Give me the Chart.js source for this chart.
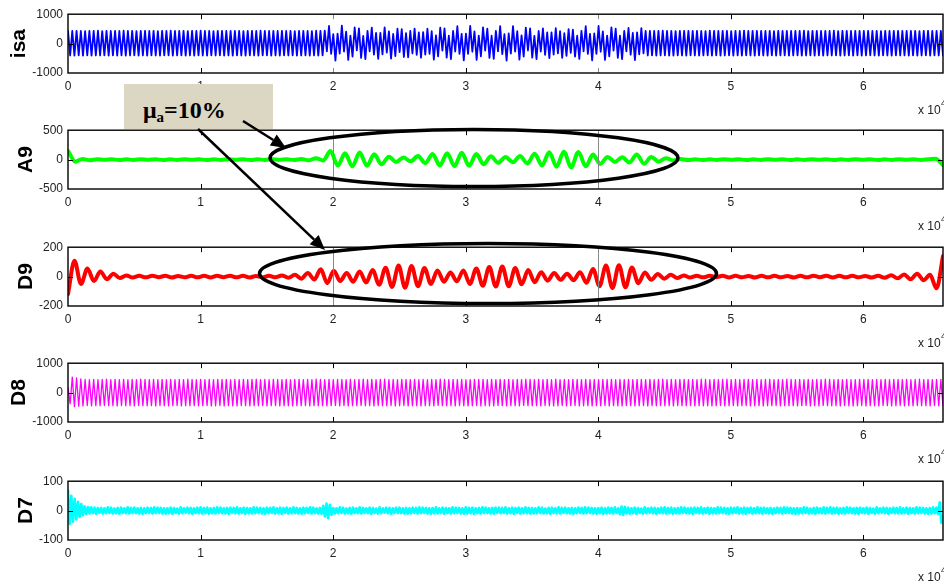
<!DOCTYPE html>
<html>
<head>
<meta charset="utf-8">
<script src="https://cdn.jsdelivr.net/npm/chart.js@4.4.0/dist/chart.umd.min.js"></script>
<style>
html, body { margin: 0; padding: 0; background: #fff; }
#page { position: relative; width: 944px; height: 588px; overflow: hidden; }
.panel { position: absolute; left: 0; width: 944px; height: 118px; z-index: 1; }
#note { position: absolute; left: 124px; top: 84px; width: 149px; height: 45px; background: #dbd7c3; z-index: 2;
        font: bold 24px "Liberation Serif", "Times New Roman", serif; color: #000; }
#note .t { position: absolute; left: 19px; top: 14px; line-height: 24px; white-space: nowrap; }
#note sub { font-size: 15px; vertical-align: -4px; line-height: 0; }
#marks { position: absolute; left: 0; top: 0; z-index: 3; pointer-events: none; }
</style>
</head>
<body>
<div id="page">
  <div class="panel" style="top:2px"><canvas id="c0"></canvas></div>
  <div class="panel" style="top:118px"><canvas id="c1"></canvas></div>
  <div class="panel" style="top:235px"><canvas id="c2"></canvas></div>
  <div class="panel" style="top:351px"><canvas id="c3"></canvas></div>
  <div class="panel" style="top:469px"><canvas id="c4"></canvas></div>
  <div id="note"><span class="t">μ<sub>a</sub>=10%</span></div>
  <canvas id="marks" width="944" height="588"></canvas>
</div>
<script>
// --- datos ---
const sampleCount = 66000;
const xTickValues = [0, 10000, 20000, 30000, 40000, 50000, 60000];
const seriesNames = ["isa", "A9", "D9", "D8", "D7"];
const yLimits = [1000, 500, 200, 1000, 100];

// isa: pico / valle de cada ciclo
const isaValues = [
  432,-405, 428,-410, 436,-401, 430,-407, 426,-399, 434,-412, 431,-404, 438,-406, 427,-402, 433,-409,
  429,-403, 435,-408, 430,-400, 437,-411, 428,-405, 432,-398, 426,-407, 436,-404, 431,-410, 429,-401,
  434,-406, 427,-409, 433,-403, 430,-399, 438,-408, 428,-405, 435,-402, 431,-411, 426,-404, 433,-407,
  429,-400, 437,-406, 430,-409, 432,-403, 427,-405, 436,-401, 431,-410, 428,-404, 434,-407, 430,-399,
  433,-406, 426,-408, 435,-402, 431,-405, 429,-410, 437,-403, 432,-400, 428,-407, 434,-404, 430,-409,
  436,-401, 429,-406, 433,-403, 427,-408, 431,-405, 435,-402, 430,-411, 426,-404, 438,-407, 432,-400,
  440,-262, 598,-350, 324,-579, 338,-341, 612,-270, 410,-556, 272,-445, 549,-232, 521,-488, 258,-530,
  436,-263, 541,-373, 362,-521, 364,-367, 552,-309, 418,-512, 327,-425, 509,-290, 492,-455, 356,-466,
  428,-338, 512,-385, 379,-481, 392,-374, 506,-347, 420,-548, 281,-436, 544,-241, 515,-476, 268,-529,
  428,-270, 590,-352, 331,-571, 337,-350, 601,-277, 413,-554, 274,-435, 552,-240, 508,-484, 267,-522,
  436,-264, 597,-359, 323,-578, 344,-344, 593,-271, 421,-547, 280,-442, 545,-234, 516,-477, 261,-530,
  429,-270, 515,-382, 379,-492, 380,-377, 522,-333, 421,-485, 353,-420, 490,-319, 477,-442, 267,-523,
  435,-265, 591,-353, 330,-572, 343,-349, 600,-277, 414,-553, 274,-436, 551,-240, 509,-483, 267,-529,
  429,-264, 530,-379, 367,-560, 381,-368, 526,-331,
  430,-406, 435,-402, 428,-409, 433,-404, 437,-400, 429,-407, 432,-411, 426,-403, 434,-405, 431,-408,
  436,-401, 428,-406, 433,-410, 430,-404, 427,-399, 438,-407, 431,-403, 429,-409, 435,-405, 432,-400,
  426,-408, 434,-404, 430,-411, 437,-402, 428,-406, 433,-409, 431,-400, 435,-405, 429,-407, 432,-403,
  427,-410, 436,-404, 430,-401, 433,-408, 428,-406, 434,-402, 431,-409, 437,-405, 426,-400, 432,-407,
  435,-403, 429,-410, 433,-404, 430,-406, 438,-401, 427,-408, 432,-405, 434,-399, 428,-407, 431,-403,
  436,-409, 430,-404, 433,-402, 429,-406, 435,-410, 427,-403, 432,-405, 430,-408, 434,-401, 431,-406,
  428,-404, 436,-409, 430,-402, 433,-407, 427,-405, 435,-400, 431,-408, 429,-403, 434,-406, 432,-404
];

const a9Values = [
  150,-35,10,-12,6,-4,5,-6,4,-5,
  6,-4,5,-6,4,-5,6,-4,5,-6,
  4,-5,6,-4,5,-6,4,-5,6,-4,
  5,-6,10,-12,25,-15,145,-100,107,-115,
  120,-105,90,-80,50,-40,35,-30,60,-60,
  95,-100,110,-110,115,-105,95,-80,55,-55,
  45,-45,60,-65,100,-100,125,-120,135,-130,
  130,-115,85,-75,45,-40,40,-50,85,-70,
  45,-35,25,-15,10,-8,5,-6,4,-5,
  6,-4,5,-6,4,-5,6,-4,5,-6,
  4,-5,6,-4,5,-6,4,-5,6,-4,
  5,-6,4,-5,6,-4,5,-6,4,15,
  -95
];

const d9Values = [
  -120,108,-50,55,-30,35,-18,20,-10,8,
  -6,5,-5,6,-4,5,-6,4,-5,6,
  -5,5,-6,5,-4,6,-5,5,-6,4,
  -5,6,-5,8,-8,12,-14,25,-20,50,
  -45,40,-30,25,-35,35,-40,45,-55,60,
  -70,75,-75,72,-65,58,-50,42,-35,28,
  -32,42,-50,55,-62,65,-68,68,-65,58,
  -52,45,-38,30,-28,25,-22,20,-25,30,
  -42,52,-65,75,-78,78,-72,62,-45,28,
  -22,18,-14,12,-10,8,-6,5,-5,6,
  -4,5,-6,5,-5,4,-6,5,-5,6,
  -5,4,-6,5,-5,6,-4,5,-6,5,
  -5,6,-5,4,-6,5,-8,10,-12,15,
  -18,20,-25,12,-80,140
];

const d8Values = [
  170,-380, 525,-478, 498,-462, 470,-452,
  448,-441, 443,-452, 451,-446, 439,-449, 446,-438, 454,-447, 441,-444, 449,-453, 444,-440, 452,-448,
  438,-445, 447,-451, 442,-437, 455,-446, 446,-449, 440,-443, 451,-454, 443,-441, 449,-447, 437,-450,
  452,-444, 444,-439, 448,-452, 441,-446, 456,-448, 445,-442, 439,-451, 450,-445, 443,-438, 447,-453,
  441,-447, 450,-440, 445,-455, 453,-443, 438,-448, 447,-451, 444,-439, 451,-446, 440,-452, 449,-444,
  455,-449, 442,-441, 447,-453, 439,-445, 452,-440, 446,-450, 443,-447, 450,-442, 437,-454, 448,-446,
  452,-444, 444,-439, 448,-452, 441,-446, 456,-448, 445,-442, 439,-451, 450,-445, 443,-438, 447,-453,
  448,-441, 443,-452, 451,-446, 439,-449, 446,-438, 454,-447, 441,-444, 449,-453, 444,-440, 452,-448,
  455,-449, 442,-441, 447,-453, 439,-445, 452,-440, 446,-450, 443,-447, 450,-442, 437,-454, 448,-446,
  438,-445, 447,-451, 442,-437, 455,-446, 446,-449, 440,-443, 451,-454, 443,-441, 449,-447, 437,-450,
  441,-447, 450,-440, 445,-455, 453,-443, 438,-448, 447,-451, 444,-439, 451,-446, 440,-452, 449,-444,
  438,-445, 447,-451, 442,-437, 455,-446, 446,-449, 440,-443, 451,-454, 443,-441, 449,-447, 437,-450,
  455,-449, 442,-441, 447,-453, 439,-445, 452,-440, 446,-450, 443,-447, 450,-442, 437,-454, 448,-446,
  441,-447, 450,-440, 445,-455, 453,-443, 438,-448, 447,-451, 444,-439, 451,-446, 440,-452, 449,-444,
  448,-441, 443,-452, 451,-446, 439,-449, 446,-438, 454,-447, 441,-444, 449,-453, 444,-440, 452,-448,
  452,-444, 444,-439, 448,-452, 441,-446, 456,-448, 445,-442, 439,-451, 450,-445, 443,-438, 447,-453,
  455,-449, 442,-441, 447,-453, 439,-445, 452,-440, 446,-450, 443,-447, 450,-442, 437,-454, 448,-446,
  452,-444, 444,-439, 448,-452, 441,-446, 456,-448, 445,-442, 439,-451, 450,-445, 443,-438, 447,-453,
  438,-445, 447,-451, 442,-437, 455,-446, 446,-449, 440,-443, 451,-454, 443,-441, 449,-447, 437,-450,
  441,-447, 450,-440, 445,-455, 453,-443, 438,-448, 447,-451, 444,-439, 451,-446, 440,-452, 449,-444,
  448,-441, 443,-452, 451,-446, 439,-449, 446,-438, 454,-447, 441,-444, 449,-453, 444,-440, 452,-448,
  446,-444
];

const d7Values = [
  68,-45,50,-38,40,-30,30,-22,22,-16,15,-12,12,-10,11,-9,10,-11,9,-8,
  9,-10,8,-9,11,-8,10,-10,7,-9,9,-11,10,-8,8,-9,11,-10,9,-8,
  10,-9,8,-10,9,-11,8,-9,10,-8,9,-10,11,-9,10,-8,9,-10,8,-11,
  8,-9,10,-11,9,-8,7,-10,11,-9,8,-7,10,-9,9,-11,8,-8,10,-9,
  11,-10,9,-9,10,-11,8,-9,9,-10,11,-8,10,-9,8,-10,9,-11,10,-8,
  9,-9,11,-10,8,-8,10,-11,9,-9,8,-10,11,-9,10,-8,9,-10,8,-11,
  10,-9,9,-8,11,-10,8,-9,10,-11,9,-8,10,-10,8,-9,11,-9,9,-10,
  8,-11,10,-9,9,-8,11,-10,10,-9,8,-10,9,-11,16,-20,24,-26,20,-14,
  9,-10,8,-9,11,-8,10,-10,7,-9,9,-11,10,-8,8,-9,11,-10,9,-8,
  8,-9,10,-11,9,-8,7,-10,11,-9,8,-7,10,-9,9,-11,8,-8,10,-9,
  10,-9,8,-10,9,-11,8,-9,10,-8,9,-10,11,-9,10,-8,9,-10,8,-11,
  9,-9,11,-10,8,-8,10,-11,9,-9,8,-10,11,-9,10,-8,9,-10,8,-11,
  11,-10,9,-9,10,-11,8,-9,9,-10,11,-8,10,-9,8,-10,9,-11,10,-8,
  10,-9,9,-8,11,-10,8,-9,10,-11,9,-8,10,-10,8,-9,11,-9,9,-10,
  9,-10,8,-9,11,-8,10,-10,7,-9,9,-11,10,-8,8,-9,11,-10,9,-8,
  10,-9,8,-10,9,-11,8,-9,10,-8,9,-10,11,-9,10,-8,9,-10,8,-11,
  9,-9,10,-11,8,-10,10,-9,9,-10,11,-8,8,-12,14,-15,13,-10,10,-11,
  8,-9,10,-11,9,-8,7,-10,11,-9,8,-7,10,-9,9,-11,8,-8,10,-9,
  11,-10,9,-9,10,-11,8,-9,9,-10,11,-8,10,-9,8,-10,9,-11,10,-8,
  9,-9,11,-10,8,-8,10,-11,9,-9,8,-10,11,-9,10,-8,9,-10,8,-11,
  10,-9,9,-8,11,-10,8,-9,10,-11,9,-8,10,-10,8,-9,11,-9,9,-10,
  10,-9,8,-10,9,-11,8,-9,10,-8,9,-10,11,-9,10,-8,9,-10,8,-11,
  9,-10,8,-9,11,-8,10,-10,7,-9,9,-11,10,-8,8,-9,11,-10,9,-8,
  11,-10,9,-9,10,-11,8,-9,9,-10,11,-8,10,-9,8,-10,9,-11,10,-8,
  8,-9,10,-11,9,-8,7,-10,11,-9,8,-7,10,-9,9,-11,8,-8,10,-9,
  9,-9,11,-10,8,-8,10,-11,9,-9,8,-10,11,-9,10,-8,9,-10,8,-11,
  9,-10,11,-9,10,-12,28,-42,-20
];

const series = [isaValues, a9Values, d9Values, d8Values, d7Values];
const colores = ["#0000ff", "#00ff00", "#ff0000", "#ff00ff", "#00ffff"];
const grosor = [1.8, 4, 4, 1.3, 2.6];
const suave = [false, true, true, false, false];
const fuente = '"Liberation Sans", Arial, sans-serif';

// ejes estilo matlab: marco, marcas hacia dentro, titulo y "x 10^4"
const marcoMatlab = {
  id: "marcoMatlab",
  afterDatasetsDraw(chart, args, opts) {
    const ctx = chart.ctx;
    const a = chart.chartArea;
    const sx = chart.scales.x, sy = chart.scales.y;
    ctx.save();
    ctx.lineWidth = 1;
    xTickValues.slice(1).forEach(v => {
      const px = Math.round(sx.getPixelForValue(v)) + 0.5;
      const gris = opts.gris.includes(v);
      ctx.strokeStyle = gris ? "#8a8a8a" : "#000";
      ctx.beginPath();
      if (gris && opts.lineaCompleta) {
        ctx.moveTo(px, a.top); ctx.lineTo(px, a.bottom);
      } else {
        ctx.moveTo(px, a.top); ctx.lineTo(px, a.top + 5);
        ctx.moveTo(px, a.bottom); ctx.lineTo(px, a.bottom - 5);
      }
      ctx.stroke();
    });
    const y0 = Math.round(sy.getPixelForValue(0)) + 0.5;
    ctx.strokeStyle = "#000";
    ctx.beginPath();
    ctx.moveTo(a.left, y0); ctx.lineTo(a.left + 5, y0);
    ctx.moveTo(a.right, y0); ctx.lineTo(a.right - 5, y0);
    ctx.stroke();
    ctx.lineWidth = 1.4;
    ctx.strokeRect(a.left, a.top, a.right - a.left, a.bottom - a.top);

    ctx.fillStyle = "#000";
    ctx.translate(opts.tituloX, (a.top + a.bottom) / 2);
    ctx.rotate(-Math.PI / 2);
    ctx.font = "bold 21px " + fuente;
    ctx.textAlign = "center";
    ctx.textBaseline = "alphabetic";
    ctx.fillText(opts.titulo, 0, 0);
    ctx.restore();

    ctx.save();
    ctx.fillStyle = "#222";
    ctx.font = "12px " + fuente;
    ctx.textBaseline = "middle";
    ctx.textAlign = "left";
    ctx.fillText("x 10", 918, a.bottom + 38);
    ctx.font = "9px " + fuente;
    ctx.fillText("4", 941, a.bottom + 31);
    ctx.restore();
  }
};

function crearPanel(i) {
  const vals = series[i];
  const paso = sampleCount / (vals.length - 1);
  const puntos = vals.map((v, k) => ({ x: k * paso, y: v }));
  const ancho = yLimits[i] >= 1000;
  new Chart(document.getElementById("c" + i), {
    type: "line",
    data: {
      datasets: [{
        data: puntos,
        borderColor: colores[i],
        borderWidth: grosor[i],
        pointRadius: 0,
        tension: 0,
        cubicInterpolationMode: suave[i] ? "monotone" : "default",
        borderJoinStyle: "round",
        borderCapStyle: "round"
      }]
    },
    options: {
      responsive: true,
      maintainAspectRatio: false,
      animation: false,
      events: [],
      layout: { padding: { top: 10, right: 1, left: 0, bottom: 0 } },
      plugins: {
        legend: { display: false },
        tooltip: { enabled: false },
        marcoMatlab: {
          titulo: seriesNames[i],
          tituloX: ancho ? 25 : 32,
          gris: (i === 0 || i === 1 || i === 2) ? [20000, 40000] : [],
          lineaCompleta: i === 1 || i === 2
        }
      },
      scales: {
        x: {
          type: "linear",
          min: 0,
          max: sampleCount,
          grid: { display: false, drawTicks: false },
          border: { display: false },
          afterBuildTicks: s => { s.ticks = xTickValues.map(v => ({ value: v })); },
          ticks: {
            autoSkip: false,
            maxRotation: 0,
            padding: 6,
            color: "#222",
            font: { family: fuente, size: 12 },
            callback: v => String(v / 10000)
          },
          afterFit: s => { s.height = 47; }
        },
        y: {
          min: -yLimits[i],
          max: yLimits[i],
          grid: { display: false, drawTicks: false },
          border: { display: false },
          afterBuildTicks: s => { s.ticks = [-yLimits[i], 0, yLimits[i]].map(v => ({ value: v })); },
          ticks: {
            padding: 5,
            color: "#222",
            font: { family: fuente, size: 12 },
            callback: v => String(v)
          },
          afterFit: s => { s.width = 68; }
        }
      }
    },
    plugins: [marcoMatlab]
  });
}

for (let i = 0; i < series.length; i++) crearPanel(i);

// --- anotacion: flechas y elipses ---
const m = document.getElementById("marks").getContext("2d");

function flecha(x1, y1, x2, y2) {
  const ang = Math.atan2(y2 - y1, x2 - x1);
  const largo = 15, medio = 6.5;
  const bx = x2 - largo * Math.cos(ang), by = y2 - largo * Math.sin(ang);
  m.beginPath();
  m.moveTo(x1, y1); m.lineTo(bx, by);
  m.stroke();
  m.beginPath();
  m.moveTo(x2, y2);
  m.lineTo(bx + medio * Math.sin(ang), by - medio * Math.cos(ang));
  m.lineTo(bx - medio * Math.sin(ang), by + medio * Math.cos(ang));
  m.closePath();
  m.fill();
}

m.strokeStyle = "#000";
m.fillStyle = "#000";
m.lineWidth = 3.5;
m.beginPath(); m.ellipse(474, 158, 204, 28.5, 0, 0, Math.PI * 2); m.stroke();
m.beginPath(); m.ellipse(488, 273.5, 228.5, 30, 0, 0, Math.PI * 2); m.stroke();
m.lineWidth = 2.5;
flecha(243, 121, 286, 148);
flecha(198, 129, 325, 250);
</script>
</body>
</html>
